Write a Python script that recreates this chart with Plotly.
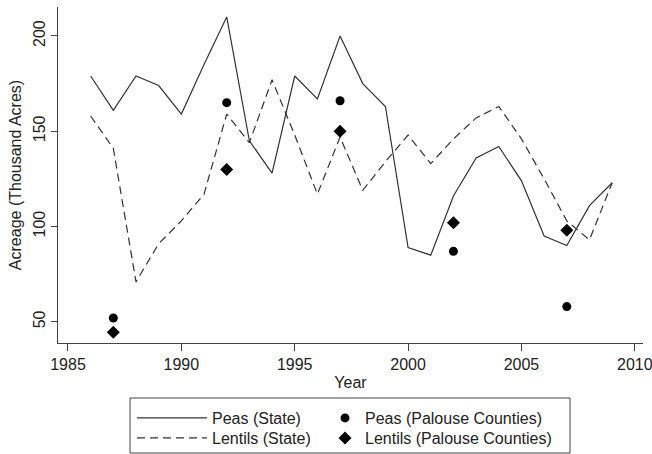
import plotly.graph_objects as go

years = list(range(1986, 2010))
peas_state = [179, 161, 179, 174, 159, 185, 210, 145, 128, 179, 167, 200,
              175, 163, 89, 85, 116, 136, 142, 124, 95, 90, 111, 123]
lentils_state = [158, 141, 71, 91, 103, 117, 159, 144, 177, 148, 117, 147,
                 119, 134, 148, 133, 146, 157, 163, 146, 125, 103, 93, 123]
census_years = [1987, 1992, 1997, 2002, 2007]
peas_palouse = [52, 165, 166, 87, 58]
lentils_palouse = [44.5, 130, 150, 102, 98]

x_ticks = [1985, 1990, 1995, 2000, 2005, 2010]
y_ticks = [50, 100, 150, 200]

FONT = "Liberation Sans, Arial, sans-serif"
INK = "#222222"
LINE = "#333333"

fig = go.Figure()
fig.add_trace(go.Scatter(x=years, y=peas_state, mode="lines", name="Peas (State)",
                         line=dict(color=LINE, width=1.2), legend="legend"))
fig.add_trace(go.Scatter(x=years, y=lentils_state, mode="lines", name="Lentils (State)",
                         line=dict(color=LINE, width=1.2, dash="8px,5px"), legend="legend2"))
fig.add_trace(go.Scatter(x=census_years, y=peas_palouse, mode="markers",
                         name="Peas (Palouse Counties)",
                         marker=dict(symbol="circle", size=9, color="black"), legend="legend3"))
fig.add_trace(go.Scatter(x=census_years, y=lentils_palouse, mode="markers",
                         name="Lentils (Palouse Counties)",
                         marker=dict(symbol="diamond", size=10, color="black"), legend="legend4"))

L, R, T, B = 58, 9, 7, 111
W, H = 652, 454
pw, ph = W - L - R, H - T - B

def px(xp):
    return (xp - L) / pw

def py(yp):
    return (H - B - yp) / ph

def leg(xp, yp, **kw):
    d = dict(x=px(xp), y=py(yp), xanchor="left", yanchor="top",
             bgcolor="rgba(0,0,0,0)", borderwidth=0, font=dict(size=16))
    d.update(kw)
    return d

fig.update_layout(
    width=W, height=H,
    margin=dict(l=L, r=R, t=T, b=B, autoexpand=False),
    paper_bgcolor="white", plot_bgcolor="white",
    font=dict(family=FONT, size=16, color=INK),
    showlegend=True,
    legend=leg(132, 401, itemwidth=70),
    legend2=leg(132, 421, itemwidth=70),
    legend3=leg(325, 401),
    legend4=leg(325, 421),
    shapes=[dict(type="rect", xref="paper", yref="paper",
                 x0=px(130), x1=px(570), y0=py(398), y1=py(453),
                 line=dict(color="#444444", width=1))],
)
fig.update_xaxes(range=[1984.56, 2010.36], tickvals=x_ticks,
                 ticks="outside", ticklen=7, tickcolor="#444444",
                 showline=True, linecolor="#444444", linewidth=1,
                 showgrid=False, zeroline=False, ticklabeloverflow="allow",
                 automargin=False,
                 title=dict(text="Year", standoff=4, font=dict(size=16)))
fig.update_yaxes(range=[38.9, 215.2], tickvals=y_ticks, tickangle=-90,
                 ticks="outside", ticklen=6, tickcolor="#444444",
                 showline=True, linecolor="#444444", linewidth=1,
                 showgrid=False, zeroline=False, automargin=False,
                 title=dict(text="Acreage (Thousand Acres)", standoff=4, font=dict(size=16)))

fig.write_html("out.html")
